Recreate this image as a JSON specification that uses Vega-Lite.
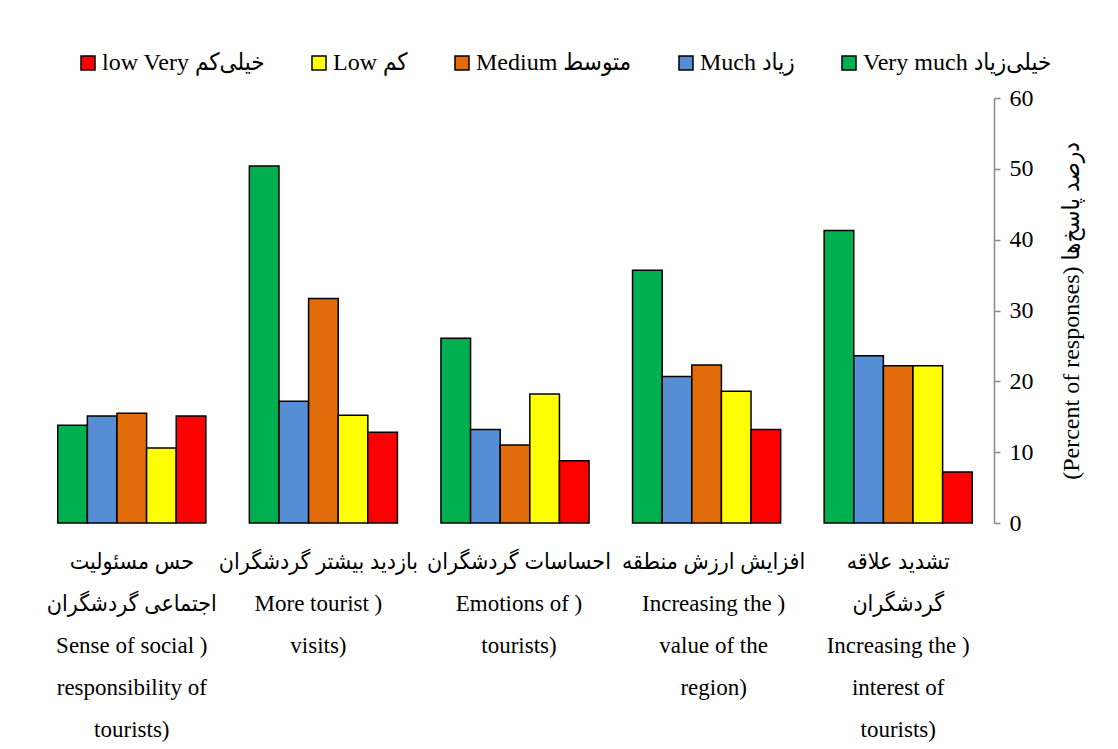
{
  "$schema": "https://vega.github.io/schema/vega-lite/v6.json",
  "autosize": {"type": "none"},
  "padding": {"left": 36, "top": 98, "right": 124, "bottom": 226},
  "width": 958,
  "height": 425,
  "background": "white",
  "config": {
    "view": {"stroke": null},
    "font": "Liberation Serif, 'DejaVu Sans Condensed', 'DejaVu Sans'",
    "axis": {"labelFont": "Liberation Serif, 'DejaVu Sans Condensed', 'DejaVu Sans'", "titleFont": "Liberation Serif, 'DejaVu Sans Condensed', 'DejaVu Sans'", "labelColor": "black", "titleColor": "black"},
    "legend": {"labelFont": "Liberation Serif, 'DejaVu Sans Condensed', 'DejaVu Sans'"}
  },
  "data": {
    "values": [
      {"category": "حس مسئولیت|اجتماعی گردشگران|Sense of social )|responsibility of|tourists)", "level": "Very much", "percent": 13.8},
      {"category": "حس مسئولیت|اجتماعی گردشگران|Sense of social )|responsibility of|tourists)", "level": "Much", "percent": 15.1},
      {"category": "حس مسئولیت|اجتماعی گردشگران|Sense of social )|responsibility of|tourists)", "level": "Medium", "percent": 15.5},
      {"category": "حس مسئولیت|اجتماعی گردشگران|Sense of social )|responsibility of|tourists)", "level": "Low", "percent": 10.6},
      {"category": "حس مسئولیت|اجتماعی گردشگران|Sense of social )|responsibility of|tourists)", "level": "Very low", "percent": 15.1},
      {"category": "بازدید بیشتر گردشگران|More tourist )|visits)", "level": "Very much", "percent": 50.4},
      {"category": "بازدید بیشتر گردشگران|More tourist )|visits)", "level": "Much", "percent": 17.2},
      {"category": "بازدید بیشتر گردشگران|More tourist )|visits)", "level": "Medium", "percent": 31.7},
      {"category": "بازدید بیشتر گردشگران|More tourist )|visits)", "level": "Low", "percent": 15.2},
      {"category": "بازدید بیشتر گردشگران|More tourist )|visits)", "level": "Very low", "percent": 12.8},
      {"category": "احساسات گردشگران|Emotions of )|tourists)", "level": "Very much", "percent": 26.1},
      {"category": "احساسات گردشگران|Emotions of )|tourists)", "level": "Much", "percent": 13.2},
      {"category": "احساسات گردشگران|Emotions of )|tourists)", "level": "Medium", "percent": 11.0},
      {"category": "احساسات گردشگران|Emotions of )|tourists)", "level": "Low", "percent": 18.2},
      {"category": "احساسات گردشگران|Emotions of )|tourists)", "level": "Very low", "percent": 8.8},
      {"category": "افزایش ارزش منطقه|Increasing the )|value of the|region)", "level": "Very much", "percent": 35.7},
      {"category": "افزایش ارزش منطقه|Increasing the )|value of the|region)", "level": "Much", "percent": 20.7},
      {"category": "افزایش ارزش منطقه|Increasing the )|value of the|region)", "level": "Medium", "percent": 22.3},
      {"category": "افزایش ارزش منطقه|Increasing the )|value of the|region)", "level": "Low", "percent": 18.6},
      {"category": "افزایش ارزش منطقه|Increasing the )|value of the|region)", "level": "Very low", "percent": 13.2},
      {"category": "تشدید علاقه|گردشگران|Increasing the )|interest of|tourists)", "level": "Very much", "percent": 41.3},
      {"category": "تشدید علاقه|گردشگران|Increasing the )|interest of|tourists)", "level": "Much", "percent": 23.6},
      {"category": "تشدید علاقه|گردشگران|Increasing the )|interest of|tourists)", "level": "Medium", "percent": 22.2},
      {"category": "تشدید علاقه|گردشگران|Increasing the )|interest of|tourists)", "level": "Low", "percent": 22.2},
      {"category": "تشدید علاقه|گردشگران|Increasing the )|interest of|tourists)", "level": "Very low", "percent": 7.2}
    ]
  },
  "mark": {"type": "bar", "stroke": "black", "strokeWidth": 1.5},
  "encoding": {
    "x": {
      "field": "category",
      "type": "nominal",
      "sort": null,
      "scale": {"paddingInner": 0.227, "paddingOuter": 0.1135},
      "axis": {
        "title": null,
        "domain": false,
        "ticks": false,
        "labelAngle": 0,
        "labelExpr": "split(datum.label, '|')",
        "labelFontSize": 23,
        "labelLineHeight": 42,
        "labelPadding": 27,
        "labelBaseline": "top",
        "labelLimit": 0,
        "labelOverlap": false,
        "labelOffset": {
          "condition": [
            {"test": "datum.value == 'بازدید بیشتر گردشگران|More tourist )|visits)'", "value": -5},
            {"test": "datum.value == 'احساسات گردشگران|Emotions of )|tourists)'", "value": 4},
            {"test": "datum.value == 'افزایش ارزش منطقه|Increasing the )|value of the|region)'", "value": 7}
          ],
          "value": 0
        }
      }
    },
    "xOffset": {
      "field": "level",
      "type": "nominal",
      "sort": ["Very much", "Much", "Medium", "Low", "Very low"],
      "scale": {"paddingInner": 0, "paddingOuter": 0}
    },
    "y": {
      "field": "percent",
      "type": "quantitative",
      "scale": {"domain": [0, 60], "nice": false},
      "axis": {
        "orient": "right",
        "title": "(Percent of responses) درصد پاسخ‌ها",
        "titleAngle": -90,
        "titleFontSize": 24,
        "titleFontWeight": "normal",
        "titlePadding": 50,
        "values": [0, 10, 20, 30, 40, 50, 60],
        "grid": false,
        "domainColor": "#888888",
        "domainWidth": 1.5,
        "tickColor": "#888888",
        "tickWidth": 1.5,
        "tickSize": 6,
        "labelFontSize": 24,
        "labelPadding": 9
      }
    },
    "color": {
      "field": "level",
      "type": "nominal",
      "scale": {
        "domain": ["Very low", "Low", "Medium", "Much", "Very much"],
        "range": ["#FF0000", "#FFFF00", "#E26B0A", "#558ED5", "#00B050"]
      },
      "legend": {
        "title": null,
        "orient": "none",
        "direction": "horizontal",
        "legendX": 40,
        "legendY": -47,
        "symbolType": "square",
        "symbolSize": 196,
        "symbolStrokeColor": "black",
        "symbolStrokeWidth": 1.5,
        "symbolOpacity": 1,
        "labelFontSize": 24,
        "labelColor": "black",
        "labelOffset": 2,
        "columnPadding": 42,
        "labelLimit": 0,
        "labelExpr": "datum.label == 'Very low' ? 'low Very خیلی‌کم' : datum.label == 'Low' ? 'Low کم' : datum.label == 'Medium' ? 'Medium متوسط' : datum.label == 'Much' ? 'Much زیاد' : 'Very much خیلی‌زیاد'"
      }
    }
  }
}
